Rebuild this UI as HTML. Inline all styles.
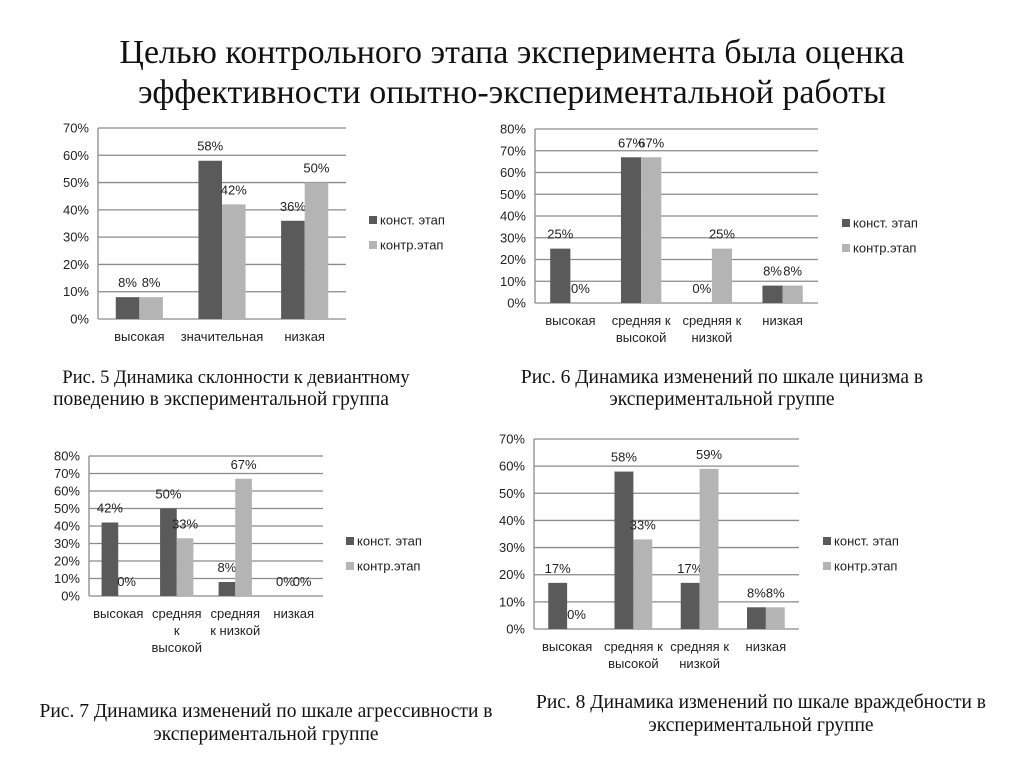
<!DOCTYPE html>
<html><head><meta charset="utf-8"><style>
html,body{margin:0;padding:0;background:#fff;}
svg{display:block;}
.t{font-family:"Liberation Serif",serif;fill:#111;}
.s{font-family:"Liberation Sans","DejaVu Sans",sans-serif;fill:#222;font-size:13px;}
</style></head><body>
<svg id="pg" width="1024" height="767" viewBox="0 0 1024 767" xmlns="http://www.w3.org/2000/svg">
<text class="t" x="512" y="63" font-size="34" text-anchor="middle">Целью контрольного этапа эксперимента была оценка</text>
<text class="t" x="512" y="103" font-size="34" text-anchor="middle">эффективности опытно-экспериментальной работы</text>
<text class="t" x="236" y="383" font-size="18.5" text-anchor="middle">Рис. 5 Динамика склонности к девиантному</text>
<text class="t" x="221" y="405" font-size="19.5" text-anchor="middle">поведению в экспериментальной группа</text>
<text class="t" x="722" y="383" font-size="19.5" text-anchor="middle">Рис. 6 Динамика изменений по шкале цинизма в</text>
<text class="t" x="722" y="405" font-size="19.5" text-anchor="middle">экспериментальной группе</text>
<text class="t" x="266" y="717" font-size="19.5" text-anchor="middle">Рис. 7 Динамика изменений по шкале агрессивности в</text>
<text class="t" x="266" y="740" font-size="19.5" text-anchor="middle">экспериментальной группе</text>
<text class="t" x="761" y="708" font-size="19.5" text-anchor="middle">Рис. 8 Динамика изменений по шкале враждебности в</text>
<text class="t" x="761" y="731" font-size="19.5" text-anchor="middle">экспериментальной группе</text>
</svg>
<script>
// Chart data
const cats5 = [["высокая"],["значительная"],["низкая"]];
const konst5 = [8,58,36];
const kontr5 = [8,42,50];
const cats6 = [["высокая"],["средняя к","высокой"],["средняя к","низкой"],["низкая"]];
const konst6 = [25,67,0,8];
const kontr6 = [0,67,25,8];
const cats7 = [["высокая"],["средняя","к","высокой"],["средняя","к низкой"],["низкая"]];
const konst7 = [42,50,8,0];
const kontr7 = [0,33,67,0];
const cats8 = [["высокая"],["средняя к","высокой"],["средняя к","низкой"],["низкая"]];
const konst8 = [17,58,17,8];
const kontr8 = [0,33,59,8];
const ticks70 = [0,10,20,30,40,50,60,70];
const ticks80 = [0,10,20,30,40,50,60,70,80];
const seriesNames = ["конст. этап","контр.этап"];

const NS="http://www.w3.org/2000/svg";
const svg=document.getElementById('pg');
function mk(tag,attrs,parent){const e=document.createElementNS(NS,tag);for(const k in attrs)e.setAttribute(k,attrs[k]);parent.appendChild(e);return e;}

function chart(id,cfg,cats,a,b,ticks){
  const g=mk('g',{},svg);
  
  
  const max=ticks[ticks.length-1];
  const y=v=>cfg.y0-(v/max)*(cfg.y0-cfg.yTop);
  const cw=(cfg.x1-cfg.x0)/cats.length;
  const bw=cw*0.285;
  const x=i=>cfg.x0+cw*i+cw/2;
  ticks.forEach(t=>{
    const ln=mk('line',{x1:cfg.x0,x2:cfg.x1,y1:y(t),y2:y(t),stroke:'#8a8a8a','stroke-width':1.3},g);
    
    
    const tx=mk('text',{x:cfg.x0-9,y:y(t)+4.5,'text-anchor':'end',class:'s'},g);
    tx.textContent=t+'%';
    
    
  });
  const ax=mk('line',{x1:cfg.x0,x2:cfg.x0,y1:cfg.yTop,y2:cfg.y0,stroke:'#8a8a8a','stroke-width':1.3},g);
  
  
  cats.forEach((c,i)=>{
    [[a[i],'#5a5a5a',-1],[b[i],'#b4b4b4',0]].forEach(([v,col,off],s)=>{
      const bx=x(i)+off*bw;
      const r=mk('rect',{x:bx,y:y(v),width:bw,height:cfg.y0-y(v),fill:col},g);
      
      
      const lt=mk('text',{x:bx+bw/2,y:y(v)-10,'text-anchor':'middle',class:'s'},g);
      lt.textContent=v+'%';
      
      
    });
    c.forEach((line,k)=>{
      const ct=mk('text',{x:x(i),y:cfg.y0+22+k*17,'text-anchor':'middle',class:'s'},g);
      ct.textContent=line;
      
      
    });
  });
  seriesNames.forEach((n,s)=>{
    const sq=mk('rect',{x:cfg.lx,y:cfg.ly+s*25-4,width:8,height:8,fill:s?'#b4b4b4':'#5a5a5a'},g);
    
    
    const lt=mk('text',{x:cfg.lx+11,y:cfg.ly+s*25+4.5,class:'s'},g);
    lt.textContent=n;
    
    
  });
}
chart('chart-fig5',{x0:98,x1:346,yTop:128,y0:319,lx:369,ly:220},cats5,konst5,kontr5,ticks70);
chart('chart-fig6',{x0:535,x1:818,yTop:129,y0:303,lx:842,ly:223},cats6,konst6,kontr6,ticks80);
chart('chart-fig7',{x0:89,x1:323,yTop:456,y0:596,lx:346,ly:541},cats7,konst7,kontr7,ticks80);
chart('chart-fig8',{x0:534,x1:799,yTop:439,y0:629,lx:823,ly:541},cats8,konst8,kontr8,ticks70);
</script>
</body></html>
